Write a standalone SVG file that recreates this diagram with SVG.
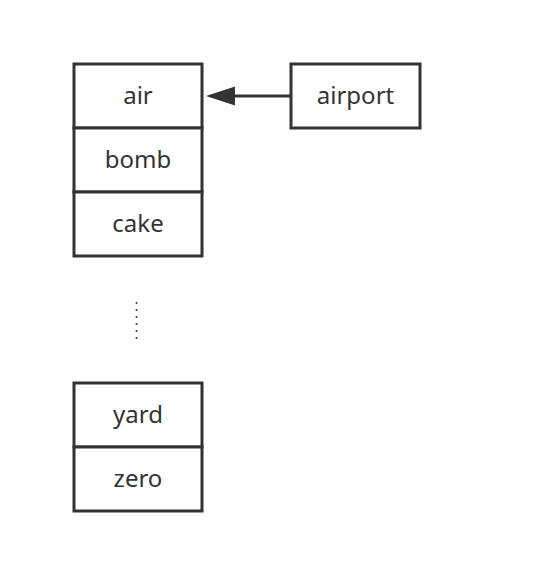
<svg xmlns="http://www.w3.org/2000/svg" width="534" height="588" viewBox="0 0 534 588">
<style>
.box{fill:#fff;stroke:#333;stroke-width:3}
.t{font-family:"Noto Sans",sans-serif;font-size:24px;fill:#333;text-anchor:middle}
</style>
<rect width="534" height="588" fill="#fff"/>
<g id="air"><rect class="box" x="74" y="64" width="128" height="64"/><text class="t" x="138" y="104">air</text></g>
<g id="bomb"><rect class="box" x="74" y="128" width="128" height="64"/><text class="t" x="138" y="168">bomb</text></g>
<g id="cake"><rect class="box" x="74" y="192" width="128" height="64"/><text class="t" x="138" y="232">cake</text></g>
<g id="yard"><rect class="box" x="74" y="383" width="128" height="64"/><text class="t" x="138" y="423">yard</text></g>
<g id="zero"><rect class="box" x="74" y="447" width="128" height="64"/><text class="t" x="138" y="487">zero</text></g>
<g id="airport"><rect class="box" x="291" y="64" width="129" height="64"/><text class="t" x="355.5" y="104">airport</text></g>
<g id="ellipsis"><line x1="136.5" y1="303" x2="136.5" y2="340" stroke="#333" stroke-width="2" stroke-linecap="round" stroke-dasharray="0 7"/></g>
<g id="connectors">
<line x1="291" y1="96" x2="234" y2="96" stroke="#333" stroke-width="3"/>
<polygon points="206,96 235,86.5 235,105.5" fill="#333"/>
</g>
</svg>
